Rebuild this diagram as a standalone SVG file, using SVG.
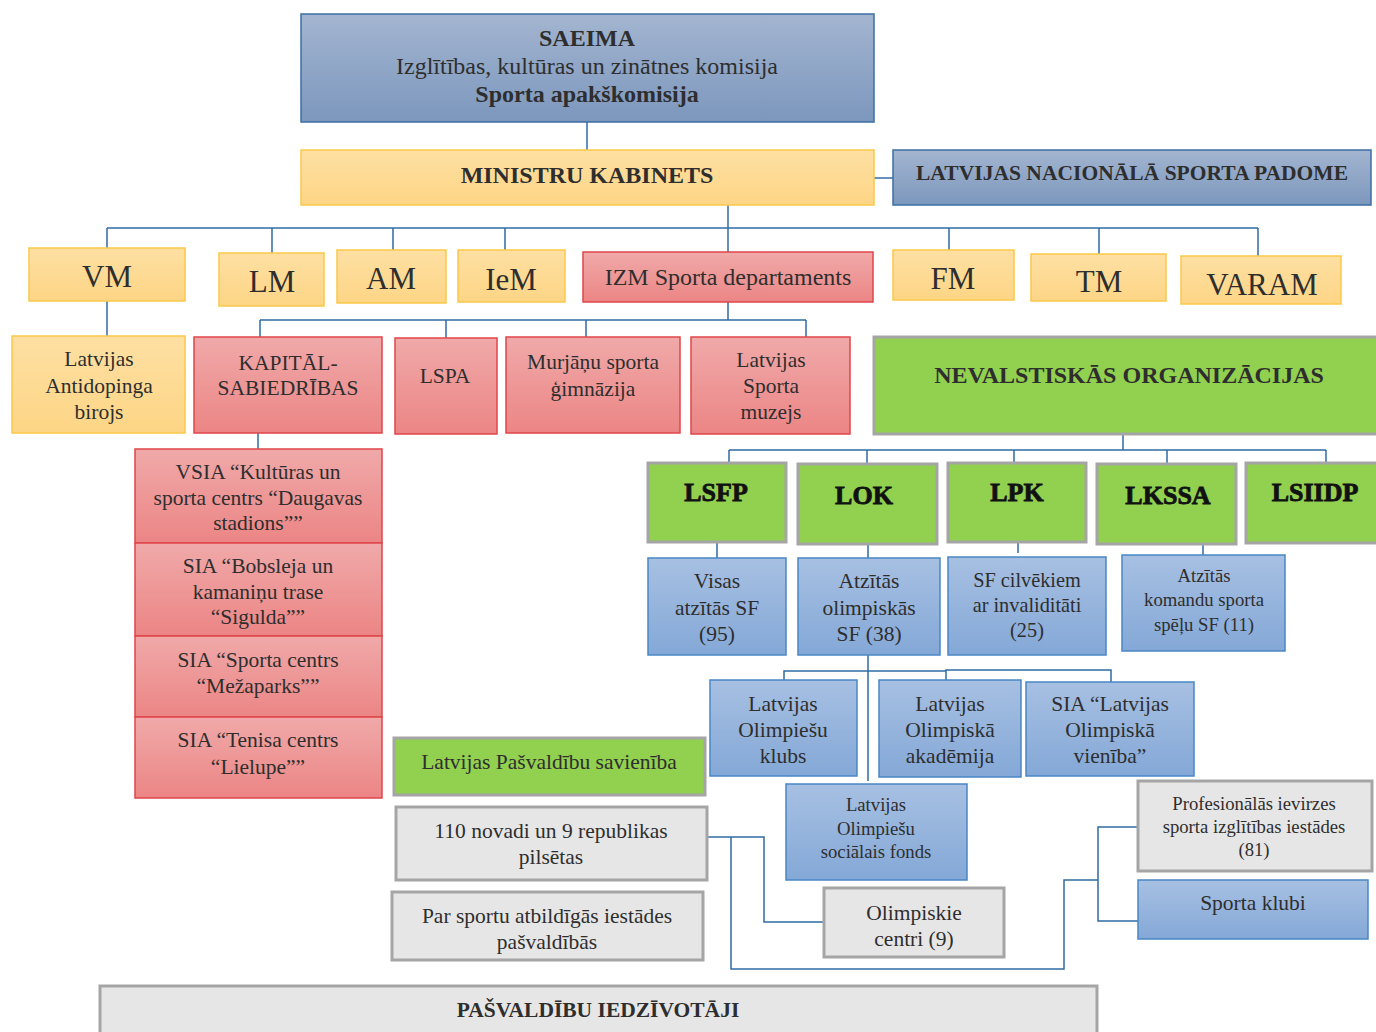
<svg xmlns="http://www.w3.org/2000/svg" width="1376" height="1032" viewBox="0 0 1376 1032" font-family="Liberation Serif, serif">
<defs>
<linearGradient id="gd" x1="0" y1="0" x2="0" y2="1"><stop offset="0" stop-color="#a3b5d0"/><stop offset="1" stop-color="#7c97bd"/></linearGradient>
<linearGradient id="gy" x1="0" y1="0" x2="0" y2="1"><stop offset="0" stop-color="#fee0a3"/><stop offset="1" stop-color="#fdd585"/></linearGradient>
<linearGradient id="gr" x1="0" y1="0" x2="0" y2="1"><stop offset="0" stop-color="#f0a9a9"/><stop offset="1" stop-color="#ec8585"/></linearGradient>
<linearGradient id="gb" x1="0" y1="0" x2="0" y2="1"><stop offset="0" stop-color="#a7c0e2"/><stop offset="1" stop-color="#84a8d7"/></linearGradient>
<style>
.c{fill:none;stroke:#2f6ca4;stroke-width:1.5}
.yel{fill:url(#gy);stroke:#fbc84a;stroke-width:1.5}
.red{fill:url(#gr);stroke:#e0464b;stroke-width:1.5}
.dbl{fill:url(#gd);stroke:#3c6ea5;stroke-width:1.5}
.lbl{fill:url(#gb);stroke:#4a86c5;stroke-width:1.5}
.grn{fill:#92d050;stroke:#a5a5a5;stroke-width:3}
.gry{fill:#e7e6e6;stroke:#a5a5a5;stroke-width:3}
text{font-family:Liberation Serif,serif;fill:#2e2e2e;text-anchor:middle;font-size:21.5px}
.b{font-weight:bold}
.t22{font-size:24px}
.t30{font-size:31px}
.t17{font-size:18.7px}
.t19{font-size:20.3px}
.hv{font-weight:bold;font-size:26px;fill:#111;stroke:#111;stroke-width:0.8}
</style>
</defs>

<g id="connectors">
<path class="c" d="M587 122V150"/>
<path class="c" d="M874 178H893"/>
<path class="c" d="M728 205V252"/>
<path class="c" d="M107 228H1258"/>
<path class="c" d="M107 228V248M272 228V253M393 228V250M505 228V250M949 228V250M1099 228V254M1258 228V256"/>
<path class="c" d="M107 301V336"/>
<path class="c" d="M728 302V320M260 320H806M260 320V337M446 320V338M586 320V337M806 320V337"/>
<path class="c" d="M258 433V449"/>
<path class="c" d="M1123 434V450M729 450H1326M729 450V463M867 450V464M1014 450V463M1167 450V464M1326 450V463"/>
<path class="c" d="M717 542V558M868 544V558M1018 542V553M1203 544V555"/>
<path class="c" d="M868 655V781M784 680V671H946V670H1111V682M946 670V680"/>
<path class="c" d="M707 837H764V922H824"/>
<path class="c" d="M731 837V969H1064V880H1098"/>
<path class="c" d="M1138 827H1098V921H1138"/>
</g>

<g id="saeima"><rect class="dbl" x="301" y="14" width="573" height="108"/>
<text class="b t22" x="587" y="46">SAEIMA</text>
<text class="t22" x="587" y="74">Izglītības, kultūras un zinātnes komisija</text>
<text class="b t22" x="587" y="102">Sporta apakškomisija</text></g>

<g id="mk"><rect class="yel" x="301" y="150" width="573" height="55"/>
<text class="b t22" x="587" y="183">MINISTRU KABINETS</text></g>

<g id="lnsp"><rect class="dbl" x="893" y="150" width="478" height="55"/>
<text class="b" x="1132" y="180" textLength="432">LATVIJAS NACIONĀLĀ SPORTA PADOME</text></g>

<g id="vm"><rect class="yel" x="29" y="248" width="156" height="53"/><text class="t30" x="107" y="287">VM</text></g>
<g id="lm"><rect class="yel" x="219" y="253" width="105" height="53"/><text class="t30" x="272" y="292">LM</text></g>
<g id="am"><rect class="yel" x="337" y="250" width="109" height="53"/><text class="t30" x="391" y="289">AM</text></g>
<g id="iem"><rect class="yel" x="458" y="250" width="107" height="52"/><text class="t30" x="511" y="290">IeM</text></g>
<g id="izm"><rect class="red" x="583" y="252" width="290" height="50"/><text class="t22" x="728" y="285">IZM Sporta departaments</text></g>
<g id="fm"><rect class="yel" x="893" y="250" width="121" height="50"/><text class="t30" x="953" y="289">FM</text></g>
<g id="tm"><rect class="yel" x="1031" y="254" width="135" height="47"/><text class="t30" x="1099" y="292">TM</text></g>
<g id="varam"><rect class="yel" x="1181" y="256" width="160" height="48"/><text class="t30" x="1262" y="295">VARAM</text></g>

<g id="antidopings"><rect class="yel" x="12" y="336" width="173" height="97"/>
<text x="99" y="366">Latvijas</text><text x="99" y="393">Antidopinga</text><text x="99" y="419">birojs</text></g>

<g id="kapital"><rect class="red" x="194" y="337" width="188" height="96"/>
<text x="288" y="370">KAPITĀL-</text><text x="288" y="395">SABIEDRĪBAS</text></g>
<g id="lspa"><rect class="red" x="395" y="338" width="102" height="96"/><text x="445" y="383">LSPA</text></g>
<g id="murjani"><rect class="red" x="506" y="337" width="174" height="96"/>
<text x="593" y="369">Murjāņu sporta</text><text x="593" y="396">ģimnāzija</text></g>
<g id="muzejs"><rect class="red" x="691" y="337" width="159" height="97"/>
<text x="771" y="367">Latvijas</text><text x="771" y="393">Sporta</text><text x="771" y="419">muzejs</text></g>

<g id="daugava"><rect class="red" x="135" y="449" width="247" height="94"/>
<text x="258" y="479">VSIA “Kultūras un</text><text x="258" y="505">sporta centrs “Daugavas</text><text x="258" y="530">stadions””</text></g>
<g id="sigulda"><rect class="red" x="135" y="543" width="247" height="93"/>
<text x="258" y="573">SIA “Bobsleja un</text><text x="258" y="599">kamaniņu trase</text><text x="258" y="624">“Sigulda””</text></g>
<g id="mezaparks"><rect class="red" x="135" y="636" width="247" height="81"/>
<text x="258" y="667">SIA “Sporta centrs</text><text x="258" y="693">“Mežaparks””</text></g>
<g id="lielupe"><rect class="red" x="135" y="717" width="247" height="81"/>
<text x="258" y="747">SIA “Tenisa centrs</text><text x="258" y="774">“Lielupe””</text></g>

<g id="nvo"><rect class="grn" x="874" y="337" width="504" height="97"/>
<text class="b t22" x="1129" y="383">NEVALSTISKĀS ORGANIZĀCIJAS</text></g>

<g id="lsfp"><rect class="grn" x="648" y="463" width="138" height="79"/><text class="hv" x="716" y="501">LSFP</text></g>
<g id="lok"><rect class="grn" x="798" y="464" width="139" height="80"/><text class="hv" x="864" y="504">LOK</text></g>
<g id="lpk"><rect class="grn" x="948" y="463" width="138" height="79"/><text class="hv" x="1017" y="501">LPK</text></g>
<g id="lkssa"><rect class="grn" x="1097" y="464" width="139" height="80"/><text class="hv" x="1168" y="504">LKSSA</text></g>
<g id="lsiidp"><rect class="grn" x="1246" y="463" width="132" height="80"/><text class="hv" x="1315" y="501">LSIIDP</text></g>

<g id="visas"><rect class="lbl" x="648" y="558" width="138" height="97"/>
<text x="717" y="588">Visas</text><text x="717" y="615">atzītās SF</text><text x="717" y="641">(95)</text></g>
<g id="olimp"><rect class="lbl" x="798" y="558" width="142" height="97"/>
<text x="869" y="588">Atzītās</text><text x="869" y="615">olimpiskās</text><text x="869" y="641">SF (38)</text></g>
<g id="invalid"><rect class="lbl" x="948" y="557" width="158" height="98"/>
<text class="t19" x="1027" y="587">SF cilvēkiem</text><text class="t19" x="1027" y="612">ar invaliditāti</text><text class="t19" x="1027" y="637">(25)</text></g>
<g id="komandu"><rect class="lbl" x="1122" y="555" width="163" height="96"/>
<text class="t17" x="1204" y="582">Atzītās</text><text class="t17" x="1204" y="606">komandu sporta</text><text class="t17" x="1204" y="631">spēļu SF (11)</text></g>

<g id="klubs"><rect class="lbl" x="710" y="680" width="147" height="96"/>
<text x="783" y="711">Latvijas</text><text x="783" y="737">Olimpiešu</text><text x="783" y="763">klubs</text></g>
<g id="akademija"><rect class="lbl" x="879" y="680" width="142" height="97"/>
<text x="950" y="711">Latvijas</text><text x="950" y="737">Olimpiskā</text><text x="950" y="763">akadēmija</text></g>
<g id="vieniba"><rect class="lbl" x="1026" y="682" width="168" height="94"/>
<text x="1110" y="711">SIA “Latvijas</text><text x="1110" y="737">Olimpiskā</text><text x="1110" y="763">vienība”</text></g>
<g id="fonds"><rect class="lbl" x="786" y="784" width="181" height="96"/>
<text class="t17" x="876" y="811">Latvijas</text><text class="t17" x="876" y="835">Olimpiešu</text><text class="t17" x="876" y="858">sociālais fonds</text></g>

<g id="lps"><rect class="grn" x="394" y="738" width="311" height="57"/>
<text x="549" y="769">Latvijas Pašvaldību savienība</text></g>
<g id="novadi"><rect class="gry" x="396" y="807" width="311" height="73"/>
<text x="551" y="838">110 novadi un 9 republikas</text><text x="551" y="864">pilsētas</text></g>
<g id="iestades"><rect class="gry" x="392" y="892" width="311" height="68"/>
<text x="547" y="923">Par sportu atbildīgās iestādes</text><text x="547" y="949">pašvaldībās</text></g>
<g id="centri"><rect class="gry" x="824" y="888" width="180" height="69"/>
<text x="914" y="920">Olimpiskie</text><text x="914" y="946">centri (9)</text></g>
<g id="profizgl"><rect class="gry" x="1138" y="781" width="234" height="90"/>
<text class="t17" x="1254" y="810">Profesionālās ievirzes</text><text class="t17" x="1254" y="833">sporta izglītības iestādes</text><text class="t17" x="1254" y="856">(81)</text></g>
<g id="klubi"><rect class="lbl" x="1138" y="880" width="230" height="59"/>
<text x="1253" y="910">Sporta klubi</text></g>

<g id="iedzivotaji"><rect class="gry" x="100" y="986" width="997" height="52"/>
<text class="b" x="598" y="1017">PAŠVALDĪBU IEDZĪVOTĀJI</text></g>
</svg>
